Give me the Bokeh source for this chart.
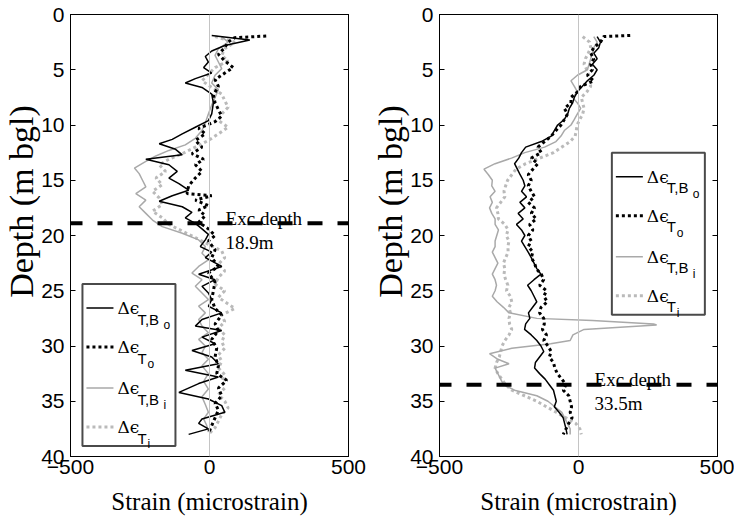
from bokeh.plotting import figure
from bokeh.layouts import row
from bokeh.models import Range1d, LinearAxis, Span, FixedTicker
from bokeh.core.properties import value
from bokeh.embed import file_html
from bokeh.resources import INLINE

# ---------------- data ----------------
x_ticks = [-500, 0, 500]
y_ticks = [0, 5, 10, 15, 20, 25, 30, 35, 40]
x_label = "Strain (microstrain)"
y_label = "Depth (m bgl)"

legend_main = "Δϵ"
legend_subs = [("T,B", "o"), ("T", "o"), ("T,B", "i"), ("T", "i")]

# Left panel (excavation 18.9 m)
L_depth_BTo = [1.9, 2.3, 2.8, 3.3, 3.8, 4.3, 4.8, 5.3, 5.8, 6.2, 6.6, 7.2, 8.0, 9.0, 9.6,
               10.2, 10.8, 11.3, 11.7, 12.2, 12.7, 13.1, 13.6, 14.2, 14.8, 15.3, 15.9, 16.4,
               16.9, 17.4, 17.9, 18.4, 18.9, 19.4, 19.9, 20.4, 21.0, 21.5, 22.0, 22.8, 23.5,
               24.0, 24.6, 25.2, 25.8, 26.4, 27.0, 27.6, 28.2, 28.6, 29.2, 29.8, 30.4, 31.0,
               31.6, 32.2, 32.8, 33.4, 34.2, 34.8, 35.4, 36.0, 36.6, 37.0, 37.5, 38.0]
L_BTo = [8, 145, 55, 8, -15, -4, -21, 8, -51, -87, -27, 8, 14, 8, -4,
         -51, -98, -134, -181, -122, -98, -229, -146, -116, -146, -110, -75, -134,
         -181, -98, -63, -87, -51, -27, -4, -15, -33, 8, -15, 44, -39,
         20, -27, -4, 8, -4, 44, -27, -51, 44, -27, 20, -63, 8,
         32, -87, 32, -39, -110, -4, 44, 55, -27, -39, -4, -75]

L_depth_To = [1.95, 2.1, 2.5, 3.0, 3.6, 4.2, 4.8, 5.3, 5.9, 6.5, 7.3, 8.0, 8.6, 9.2, 9.7,
              10.3, 10.8, 11.4, 12.0, 12.6, 13.1, 13.6, 14.2, 14.8, 15.5, 16.2, 16.4, 16.8,
              17.3, 17.7, 18.2, 18.8, 19.4, 20.0, 20.5, 21.3, 22.0, 22.8, 23.4, 24.2, 25.0,
              25.8, 26.6, 27.2, 28.0, 28.6, 29.4, 30.2, 31.0, 31.8, 32.5, 33.1, 33.8, 34.5,
              35.2, 35.8, 36.5, 37.2, 37.9]
L_To = [204, 90, 67, 55, 32, 55, 85, 55, 20, 32, 14, 20, 32, 44, 20,
        -39, -15, -51, -27, -63, -21, -51, -27, -51, -75, -81, 8, -51,
        -4, -39, -15, -39, -4, 20, -4, 20, 8, 32, -4, 20, 14,
        8, 20, 44, 20, 32, 8, 26, 20, 32, 26, 62, 32, 44,
        20, 32, 20, 8, -4]

L_depth_BTi = [2.0, 2.5, 3.1, 3.7, 4.3, 4.9, 5.5, 6.2, 6.8, 7.5, 8.2, 9.0, 9.8, 10.5, 11.2,
               11.8, 12.3, 12.8, 13.3, 13.9, 14.4, 15.0, 15.6, 16.2, 16.8, 17.4, 18.0, 18.6,
               19.2, 19.8, 20.4, 21.0, 21.6, 22.2, 22.8, 23.4, 24.0, 24.6, 25.2, 25.8, 26.4,
               27.0, 27.6, 28.2, 28.8, 29.4, 30.0, 30.6, 31.2, 31.8, 32.5, 33.2, 33.9, 34.6,
               35.3, 36.0, 36.6, 37.2, 37.8]
L_BTi = [44, 67, 32, 20, 32, 44, 20, 8, 32, 20, 8, -4, -15, -27, -51,
         -87, -146, -193, -229, -270, -253, -241, -229, -265, -229, -253, -229, -205,
         -170, -98, -39, -15, -27, -4, -39, -63, -27, -51, -27, -4, -39,
         -15, -39, -27, -4, -39, -15, -27, -4, -27, -4, -21, -4, -27,
         -15, -4, -21, -10, -4]

L_depth_Ti = [2.0, 2.5, 3.1, 3.7, 4.2, 4.8, 5.4, 6.0, 6.6, 7.2, 7.8, 8.4, 9.0, 9.6, 10.2,
              10.8, 11.4, 12.0, 12.6, 13.1, 13.6, 14.2, 14.8, 15.4, 16.0, 16.6, 17.2, 17.8,
              18.4, 19.0, 19.6, 20.2, 20.8, 21.4, 22.0, 22.6, 23.2, 23.8, 24.4, 25.0, 25.6,
              26.2, 26.6, 27.2, 27.8, 28.4, 29.0, 29.6, 30.2, 30.8, 31.4, 32.0, 32.6, 33.2,
              33.8, 34.4, 35.0, 35.6, 36.2, 36.8, 37.4, 38.0]
L_Ti = [20, 91, 55, 44, 67, 20, -4, -27, 8, 44, 55, 67, 44, 32, 67,
        32, -4, -51, -98, -146, -181, -158, -193, -170, -205, -181, -170, -205,
        -170, -146, -98, -51, -4, 44, 55, 32, 55, 32, 20, 55, 32,
        67, 91, 44, 55, 32, 55, 44, 55, 32, 44, 32, 55, 44,
        55, 32, 55, 67, 44, 32, 20, -4]

# Right panel (excavation 33.5 m)
R_depth = [2.0, 2.5, 3.0, 3.5, 4.0, 4.5, 5.0, 5.5, 6.0, 6.5, 7.0, 7.5, 8.0, 8.5, 9.0,
           9.5, 10.0, 10.5, 11.0, 11.5, 12.0, 12.5, 13.0, 13.5, 14.0, 14.5, 15.0, 15.5,
           16.0, 16.5, 17.0, 17.5, 18.0, 18.5, 19.0, 19.5, 20.0, 20.5, 21.0, 21.5, 22.0,
           22.5, 23.0, 23.5, 24.0, 24.5, 25.0, 25.5, 26.0, 26.5, 27.0, 27.5, 28.0, 28.5,
           29.0, 29.5, 30.0, 30.5, 31.0, 31.5, 32.0, 32.5, 33.0, 33.5, 34.0, 34.5, 35.0,
           35.5, 36.0, 36.5, 37.0, 37.5, 38.0]
R_BTo = [67, 79, 73, 55, 67, 50, 67, 55, 32, 14, -4, -15, -21, -33, -39,
         -51, -75, -87, -98, -134, -190, -205, -215, -230, -220, -210, -199, -193,
         -205, -187, -211, -193, -217, -199, -223, -205, -193, -205, -193, -181, -170,
         -160, -150, -135, -160, -183, -170, -160, -150, -165, -180, -175, -190, -194,
         -170, -150, -135, -125, -140, -155, -158, -140, -120, -105, -90, -85, -80,
         -87, -70, -55, -50, -45, -41]

R_depth_To = [1.9, 2.0, 2.5, 3.0, 3.5, 4.0, 4.5, 5.0, 5.5, 6.0, 6.5, 7.0, 7.5, 8.0, 8.5, 9.0,
              9.5, 10.0, 10.5, 11.0, 11.5, 12.0, 12.5, 13.0, 13.5, 14.0, 14.5, 15.0, 15.5,
              16.0, 16.5, 17.0, 17.5, 18.0, 18.5, 19.0, 19.5, 20.0, 20.5, 21.0, 21.5, 22.0,
              22.5, 23.0, 23.5, 24.0, 24.5, 25.0, 25.5, 26.0, 26.5, 27.0, 27.5, 28.0, 28.5,
              29.0, 29.5, 30.0, 30.5, 31.0, 31.5, 32.0, 32.5, 33.0, 33.5, 34.0, 34.5, 35.0,
              35.5, 36.0, 36.5, 37.0, 37.5, 38.0]
R_To = [186, 91, 79, 55, 44, 55, 44, 50, 32, 55, 8, -4, -27, -27, -51, -39,
        -51, -63, -81, -98, -122, -146, -134, -170, -146, -164, -181, -170, -181,
        -170, -158, -181, -158, -170, -152, -176, -164, -181, -170, -181, -164, -170,
        -158, -152, -134, -125, -140, -115, -125, -112, -135, -140, -125, -123, -130,
        -115, -125, -110, -98, -105, -90, -85, -76, -60, -45, -55, -35, -30,
        -25, -30, -23, -35, -45, -55]

R_depth_BTi = [2.0, 2.5, 3.0, 3.5, 4.0, 4.5, 5.0, 5.5, 6.0, 6.5, 7.0, 7.5, 8.0, 8.5, 9.0,
               9.5, 10.0, 10.5, 11.0, 11.5, 12.0, 12.5, 13.0, 13.5, 14.0, 14.5, 15.0, 15.5,
               16.0, 16.5, 17.0, 17.5, 18.0, 18.5, 19.0, 19.5, 20.0, 20.5, 21.0, 21.5, 22.0,
               22.5, 23.0, 23.5, 24.0, 24.5, 25.0, 25.5, 26.0, 26.5, 27.0, 27.5, 27.7, 28.0,
               28.1, 28.3, 28.5, 29.0, 29.5, 29.8, 30.2, 30.7, 31.2, 31.6, 32.0, 32.5, 33.0,
               33.5, 34.0, 34.5, 35.0, 35.5, 36.0, 36.5, 37.0, 37.5, 38.0]
R_BTi = [55, 67, 55, 50, 44, 38, 32, -4, -27, -15, -4, -21, -4, 8, -4,
         -15, -27, -51, -63, -81, -122, -193, -241, -300, -340, -324, -310, -312,
         -300, -318, -310, -320, -312, -300, -300, -288, -294, -300, -300, -310, -300,
         -290, -300, -310, -300, -295, -300, -310, -293, -270, -250, -150, 50, 270,
         281, 150, 20, -20, -30, -100, -240, -320, -290, -250, -300, -290, -280,
         -270, -230, -150, -110, -85, -60, -50, -40, -30, -30]

R_Ti = [15, 40, 44, 35, 25, 20, 30, 37, 40, 44, 30, 10, 15, 20, 15,
        5, -5, -8, -12, -30, -60, -90, -140, -190, -225, -240, -255, -262,
        -268, -265, -280, -295, -290, -288, -265, -253, -260, -250, -254, -253, -262,
        -270, -265, -268, -262, -254, -259, -245, -240, -250, -245, -250, -248, -240,
        -250, -265, -275, -280, -285, -295, -300, -290, -276, -262, -240, -195, -150,
        -115, -80, -45, -10, 5, 10]

exc_depth_left = 18.9
exc_depth_right = 33.5

# ---------------- styling ----------------
FRAME_W, FRAME_H = 278, 442
UX = 1000.0 / FRAME_W      # strain units per pixel
UY = 40.0 / FRAME_H        # metres per pixel

STYLES = [
    dict(line_color="black", line_width=1.5, line_dash="solid"),
    dict(line_color="black", line_width=3, line_dash="3 3"),
    dict(line_color="#a9a9a9", line_width=1.5, line_dash="solid"),
    dict(line_color="#bababa", line_width=3, line_dash="3 3"),
]
SERIF = "Liberation Serif"
GREEK = "DejaVu Serif"
SANS = "Liberation Sans"
NBSP = "\u00a0"


def style_axis(ax, ticks, show_labels):
    ax.ticker = FixedTicker(ticks=ticks)
    ax.major_tick_in = 5
    ax.major_tick_out = 0
    ax.minor_tick_in = 0
    ax.minor_tick_out = 0
    ax.axis_line_color = "black"
    ax.major_tick_line_color = "black"
    ax.major_label_text_font = "Arial"
    ax.major_label_text_font_size = "21px"
    ax.major_label_text_color = "black"
    if not show_labels:
        ax.major_label_overrides = {t: "" for t in ticks}
        ax.major_label_text_font_size = "1px"
        ax.major_label_standoff = 0


def draw_legend(p, lx, ltop):
    box_w, box_h = 93, 162
    p.quad(left=[lx], right=[lx + box_w * UX], top=[ltop], bottom=[ltop + box_h * UY],
           fill_color="white", line_color="#4a4a4a", line_width=2)
    row_off = [24, 63, 104, 143]
    for i, (sub, subsub) in enumerate(legend_subs):
        yr = ltop + row_off[i] * UY
        p.line(x=[lx + 4 * UX, lx + 31 * UX], y=[yr, yr], **STYLES[i])
        tx = lx + 35 * UX
        p.text(x=[tx], y=[yr], text=[legend_main], text_font=value(GREEK),
               text_font_size="17px", text_baseline="alphabetic", text_align="left",
               text_color="black")
        p.text(x=[tx], y=[yr], text=[sub], x_offset=20, y_offset=11,
               text_font=value(SANS), text_font_size="15px",
               text_baseline="alphabetic", text_align="left", text_color="black")
        p.text(x=[tx], y=[yr], text=[subsub], x_offset=46 if sub == "T,B" else 30,
               y_offset=17, text_font=value(SANS), text_font_size="12px",
               text_baseline="alphabetic", text_align="left", text_color="black")


def make_panel(series, exc_depth, exc_text, legend_pos, border_right):
    p = figure(frame_width=FRAME_W, frame_height=FRAME_H,
               x_range=Range1d(-500, 500), y_range=Range1d(40, 0),
               output_backend="svg", toolbar_location=None,
               min_border_left=66, min_border_right=border_right,
               min_border_top=14, min_border_bottom=60,
               background_fill_color="white", border_fill_color="white",
               outline_line_color="black", outline_line_width=1)
    p.xgrid.visible = False
    p.ygrid.visible = False

    bottom_ax = p.xaxis[0]
    left_ax = p.yaxis[0]
    style_axis(bottom_ax, x_ticks, True)
    style_axis(left_ax, y_ticks, True)
    bottom_ax.major_label_standoff = 3
    left_ax.major_label_standoff = 6

    bottom_ax.axis_label = x_label
    bottom_ax.axis_label_text_font = "serif"
    bottom_ax.axis_label_text_font_size = "25px"
    bottom_ax.axis_label_text_font_style = "normal"
    bottom_ax.axis_label_text_color = "black"
    bottom_ax.axis_label_standoff = 11
    # label sits a little above the frame centre in the reference
    left_ax.axis_label = NBSP * 8 + y_label
    left_ax.axis_label_text_font = "serif"
    left_ax.axis_label_text_font_size = "34px"
    left_ax.axis_label_text_font_style = "normal"
    left_ax.axis_label_text_color = "black"
    left_ax.axis_label_standoff = -2

    top_ax = LinearAxis()
    right_ax = LinearAxis()
    style_axis(top_ax, x_ticks, False)
    style_axis(right_ax, y_ticks, False)
    p.add_layout(top_ax, "above")
    p.add_layout(right_ax, "right")

    p.add_layout(Span(location=0, dimension="height", line_color="#c4c4c4", line_width=1))

    # draw order: grey dotted, grey solid, black dotted, black solid
    for idx in [3, 2, 1, 0]:
        d, s = series[idx]
        p.line(x=s, y=d, **STYLES[idx])

    p.add_layout(Span(location=exc_depth, dimension="width", line_color="black",
                      line_width=4, line_dash="15 15", line_dash_offset=3))
    p.text(x=[58], y=[exc_depth], text=["Exc.depth"], y_offset=-5,
           text_font=value(SERIF), text_font_size="19px", text_baseline="alphabetic",
           text_align="left", text_color="black")
    p.text(x=[58], y=[exc_depth], text=[exc_text], y_offset=19,
           text_font=value(SERIF), text_font_size="19px", text_baseline="alphabetic",
           text_align="left", text_color="black")

    draw_legend(p, *legend_pos)
    return p


left = make_panel([(L_depth_BTo, L_BTo), (L_depth_To, L_To), (L_depth_BTi, L_BTi), (L_depth_Ti, L_Ti)],
                  exc_depth_left, "18.9m", (-457, 24.4), 21)
right = make_panel([(R_depth, R_BTo), (R_depth_To, R_To), (R_depth_BTi, R_BTi), (R_depth, R_Ti)],
                   exc_depth_right, "33.5m", (120, 12.5), 17)

layout = row(left, right)
open("out.html", "w").write(file_html(layout, INLINE))
